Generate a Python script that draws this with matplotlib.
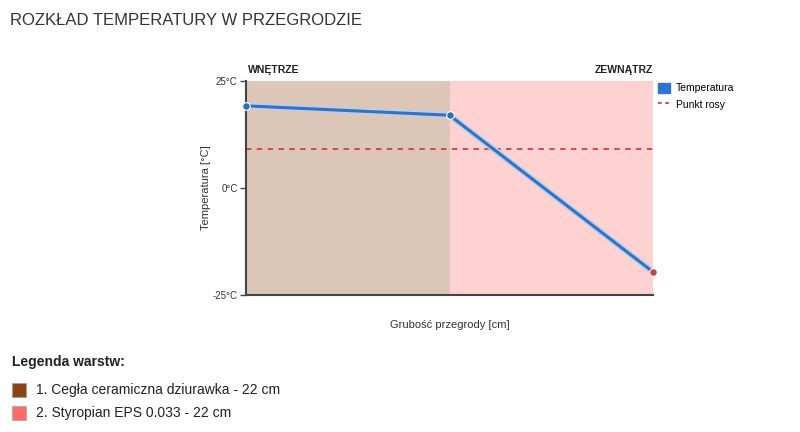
import numpy as np
import matplotlib.pyplot as plt
from matplotlib.patches import Rectangle
from matplotlib.lines import Line2D

plt.rcParams['font.family'] = ['Liberation Sans', 'DejaVu Sans']

# layers
layer_names = ['1. Cegła ceramiczna dziurawka - 22 cm', '2. Styropian EPS 0.033 - 22 cm']
layer_thick = [22, 22]
layer_colors = ['#8B4513', '#FF6B6B']

# temperature profile at layer boundaries
pos = [0, 22, 44]
temp = [19.2, 17.0, -19.6]
dew_point = 9.1

fig = plt.figure(figsize=(8, 4.32), dpi=100)
ax = fig.add_axes([0.3075, 0.3171, 0.50875, 0.4954])

x0 = 0
for t, col in zip(layer_thick, layer_colors):
    ax.axvspan(x0, x0 + t, color=col, alpha=0.3, lw=0, zorder=0)
    x0 += t

ax.axhline(dew_point, color='#d04040', ls=(0, (3, 3)), lw=1.3, zorder=2)
ax.plot(pos, temp, color='#b8d0ee', lw=4.5, zorder=3, solid_capstyle='round')
ax.plot(pos, temp, color='#3572c0', lw=2.2, zorder=4)
ax.scatter(pos[:-1], temp[:-1], s=30, color='#2f6cb8', edgecolor='white', lw=0.8,
           zorder=5, clip_on=False)
ax.scatter(pos[-1:], temp[-1:], s=30, color='#d04040', edgecolor='white', lw=0.8,
           zorder=5, clip_on=False)

ax.set_xlim(0, sum(layer_thick))
ax.set_ylim(-25, 25)
ax.set_yticks([-25, 0, 25])
ax.set_yticklabels(['-25°C', '0°C', '25°C'], fontsize=7, color='#333333')
ax.set_xticks([])
ax.tick_params(axis='y', length=4, width=1, color='#444444', pad=2)
for s in ['top', 'right']:
    ax.spines[s].set_visible(False)
for s in ['left', 'bottom']:
    ax.spines[s].set_color('#444444')
    ax.spines[s].set_linewidth(1.5)

ax.set_ylabel('Temperatura [°C]', fontsize=8, color='#333333', labelpad=1)
ax.set_xlabel('Grubość przegrody [cm]', fontsize=8, color='#333333', labelpad=18)

ax.text(0.005, 1.03, 'WNĘTRZE', transform=ax.transAxes, fontsize=7.5,
        fontweight='bold', color='#222222', ha='left', va='bottom')
ax.text(1.0, 1.03, 'ZEWNĄTRZ', transform=ax.transAxes, fontsize=7.5,
        fontweight='bold', color='#222222', ha='right', va='bottom')

handles = [Rectangle((0, 0), 1, 1, color='#2a75d0'),
           Line2D([0], [0], color='#d04040', ls=(0, (2, 2)), lw=1.3)]
ax.legend(handles, ['Temperatura', 'Punkt rosy'], loc='upper left',
          bbox_to_anchor=(0.995, 1.025), frameon=False, fontsize=7.5,
          handlelength=1.1, handleheight=1.1, handletextpad=0.6, labelspacing=0.55,
          borderaxespad=0.3)

fig.text(0.0125, 0.953, 'ROZKŁAD TEMPERATURY W PRZEGRODZIE', fontsize=12,
         color='#333333', ha='left', va='center')
fig.text(0.015, 1 - 362 / 432, 'Legenda warstw:', fontsize=10, fontweight='bold',
         color='#222222', ha='left', va='center')
for i, (name, col) in enumerate(zip(layer_names, layer_colors)):
    yc = 1 - (390 + 23 * i) / 432
    fig.patches.append(Rectangle((12 / 800, yc - 7 / 432), 14 / 800, 14 / 432,
                                 transform=fig.transFigure, facecolor=col,
                                 edgecolor='#999999', lw=0.4))
    fig.text(36 / 800, yc, name, fontsize=10, color='#222222', ha='left', va='center')

fig.savefig('out.png', dpi=100, facecolor='white')
